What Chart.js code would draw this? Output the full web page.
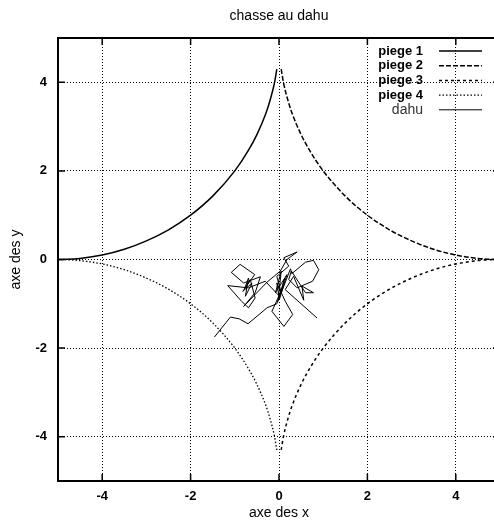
<!DOCTYPE html>
<html>
<head>
<meta charset="utf-8">
<script src="https://cdn.jsdelivr.net/npm/chart.js@4"></script>
<style>
  html, body { margin: 0; padding: 0; background: #fff; overflow: hidden; width: 494px; height: 524px; }
  #wrap { width: 510px; height: 524px; }
</style>
</head>
<body>
<div id="wrap"><canvas id="chart" width="510" height="524"></canvas></div>
<script>
/* chasse au dahu — four traps and the dahu's walk */

const FONT = "'Liberation Sans', Arial, Helvetica, sans-serif";

// tick labels
const xTicks = [-4, -2, 0, 2, 4];
const yTicks = [-4, -2, 0, 2, 4];

// piege 1 (upper left arc)
const piege1X = [-5.0, -4.8, -4.5, -4.0, -3.5, -3.0, -2.5, -2.0, -1.5, -1.0, -0.7, -0.5, -0.3, -0.2, -0.1, -0.05];
const piege1Y = [0.0, 0.004, 0.025, 0.10, 0.23, 0.42, 0.67, 1.0, 1.43, 2.0, 2.45, 2.82, 3.29, 3.6, 4.0, 4.3];

// piege 2 (upper right arc)
const piege2X = [0.05, 0.1, 0.2, 0.3, 0.5, 0.7, 1.0, 1.5, 2.0, 2.5, 3.0, 3.5, 4.0, 4.5, 4.8, 5.0];
const piege2Y = [4.3, 4.0, 3.6, 3.29, 2.82, 2.45, 2.0, 1.43, 1.0, 0.67, 0.42, 0.23, 0.10, 0.025, 0.004, 0.0];

// piege 3 (lower right arc)
const piege3X = [0.05, 0.1, 0.2, 0.3, 0.5, 0.7, 1.0, 1.5, 2.0, 2.5, 3.0, 3.5, 4.0, 4.5, 4.8, 5.0];
const piege3Y = [-4.3, -4.0, -3.6, -3.29, -2.82, -2.45, -2.0, -1.43, -1.0, -0.67, -0.42, -0.23, -0.10, -0.025, -0.004, 0.0];

// piege 4 (lower left arc)
const piege4X = [-5.0, -4.8, -4.5, -4.0, -3.5, -3.0, -2.5, -2.0, -1.5, -1.0, -0.7, -0.5, -0.3, -0.2, -0.1, -0.05];
const piege4Y = [0.0, -0.004, -0.025, -0.10, -0.23, -0.42, -0.67, -1.0, -1.43, -2.0, -2.45, -2.82, -3.29, -3.6, -4.0, -4.3];

// dahu random walk
const dahuX = [-1.46, -1.10, -0.90, -0.70, -0.27, -0.05, 0.08, -0.16, 0.11, 0.31, 0.14, -0.05, 0.01, 0.18, -0.08,
  0.05, -0.02, 0.13, 0.01,
  -0.31, -0.69, -1.16, -0.85, -0.69, -0.54, -0.65, -0.78, -0.69, -0.76, -0.61, -0.82, -0.55, -0.88, -1.08, -0.80,
  -0.42, -0.54, -0.80,
  -0.27, 0.03, 0.18, 0.41, 0.11, 0.22, -0.05, 0.05, 0.26, 0.29, 0.60, 0.78, 0.90, 0.76, 0.41,
  0.22, 0.28, 0.60, 0.78, 0.52, 0.56, 0.33, 0.14, 0.86];
const dahuY = [-1.75, -1.30, -1.34, -1.45, -1.09, -1.00, -0.64, -1.17, -1.51, -1.24, -0.94, -0.53, -0.90, -0.34, -0.75,
  -0.26, -0.94, -0.42, -0.83,
  -0.49, -0.64, -0.59, -0.94, -1.09, -0.87, -0.45, -0.66, -0.42, -0.83, -0.53, -0.72, -0.34, -0.11, -0.29, -0.53,
  -0.39, -0.75, -1.06,
  -0.51, -0.26, 0.0, 0.17, 0.04, -0.15, -0.38, -0.75, -0.21, -0.32, -0.06, -0.02, -0.23, -0.49, -0.64,
  -0.45, -0.26, -0.75, -0.75, -0.60, -0.92, -0.38, -0.68, -1.32];

const legendLabels = ['piege 1', 'piege 2', 'piege 3', 'piege 4', 'dahu'];

function pts(xs, ys) {
  return xs.map((x, i) => ({ x, y: ys[i] }));
}

function curve(label, xs, ys, dash, width, smooth) {
  return {
    label,
    data: pts(xs, ys),
    showLine: true,
    borderColor: '#000',
    borderWidth: width,
    borderDash: dash,
    pointRadius: 0,
    fill: false,
    cubicInterpolationMode: smooth ? 'monotone' : 'default',
  };
}

/* frame, inward ticks, title, legend */
const gnuplotDecor = {
  id: 'gnuplotDecor',
  afterDraw(chart) {
    const { ctx, chartArea: a, scales } = chart;
    ctx.save();

    // inward tick marks
    ctx.strokeStyle = '#000';
    ctx.lineWidth = 1.5;
    ctx.setLineDash([]);
    const tl = 7;
    xTicks.forEach(v => {
      const px = scales.x.getPixelForValue(v);
      ctx.beginPath();
      ctx.moveTo(px, a.bottom); ctx.lineTo(px, a.bottom - tl);
      ctx.moveTo(px, a.top); ctx.lineTo(px, a.top + tl);
      ctx.stroke();
    });
    yTicks.forEach(v => {
      const py = scales.y.getPixelForValue(v);
      ctx.beginPath();
      ctx.moveTo(a.left, py); ctx.lineTo(a.left + tl, py);
      ctx.moveTo(a.right, py); ctx.lineTo(a.right - tl, py);
      ctx.stroke();
    });

    // frame
    ctx.lineWidth = 2;
    ctx.strokeRect(a.left, a.top, a.right - a.left, a.bottom - a.top);

    // title
    ctx.fillStyle = '#000';
    ctx.font = '14px ' + FONT;
    ctx.textAlign = 'center';
    ctx.textBaseline = 'middle';
    ctx.fillText('chasse au dahu', 279, 16);

    // legend
    const rowY = 51, rowH = 14.7;
    chart.data.datasets.forEach((ds, i) => {
      const y = rowY + i * rowH;
      const isDahu = i === 4;
      ctx.font = isDahu ? '14px ' + FONT : 'bold 13px ' + FONT;
      ctx.fillStyle = isDahu ? '#333' : '#000';
      ctx.textAlign = 'right';
      ctx.textBaseline = 'middle';
      ctx.fillText(legendLabels[i], 423, y);
      ctx.beginPath();
      ctx.setLineDash(ds.borderDash || []);
      ctx.lineWidth = ds.borderWidth;
      ctx.moveTo(439, y);
      ctx.lineTo(482, y);
      ctx.stroke();
    });
    ctx.restore();
  }
};

const gridStyle = { color: '#000', lineWidth: 1, drawTicks: false };
const borderStyle = { display: false, dash: [1, 2] };

new Chart(document.getElementById('chart'), {
  type: 'scatter',
  data: {
    datasets: [
      curve('piege 1', piege1X, piege1Y, [], 1.5, true),
      curve('piege 2', piege2X, piege2Y, [5, 2], 1.5, true),
      curve('piege 3', piege3X, piege3Y, [3, 3], 1.5, true),
      curve('piege 4', piege4X, piege4Y, [1.5, 2], 1.3, true),
      curve('dahu', dahuX, dahuY, [], 1, false),
    ]
  },
  options: {
    responsive: false,
    animation: false,
    events: [],
    layout: { padding: { left: 0, right: 10, top: 38, bottom: 0 } },
    plugins: {
      legend: { display: false },
      title: { display: false },
      tooltip: { enabled: false },
    },
    scales: {
      x: {
        type: 'linear',
        min: -5,
        max: 5,
        afterBuildTicks: s => { s.ticks = xTicks.map(v => ({ value: v })); },
        afterFit: s => { s.height = 43; },
        grid: gridStyle,
        border: borderStyle,
        ticks: {
          color: '#000',
          padding: 8,
          font: { family: FONT, size: 13, weight: 'bold' },
        },
        title: {
          display: true,
          text: 'axe des x',
          color: '#000',
          font: { family: FONT, size: 14 },
          padding: { top: 0, bottom: 2 },
        },
      },
      y: {
        type: 'linear',
        min: -5,
        max: 5,
        afterBuildTicks: s => { s.ticks = yTicks.map(v => ({ value: v })); },
        afterFit: s => { s.width = 58; },
        grid: gridStyle,
        border: borderStyle,
        ticks: {
          color: '#000',
          padding: 11,
          font: { family: FONT, size: 13, weight: 'bold' },
        },
        title: {
          display: true,
          text: 'axe des y',
          color: '#000',
          font: { family: FONT, size: 14 },
          padding: { top: 8, bottom: 0 },
        },
      },
    },
  },
  plugins: [gnuplotDecor],
});
</script>
</body>
</html>
